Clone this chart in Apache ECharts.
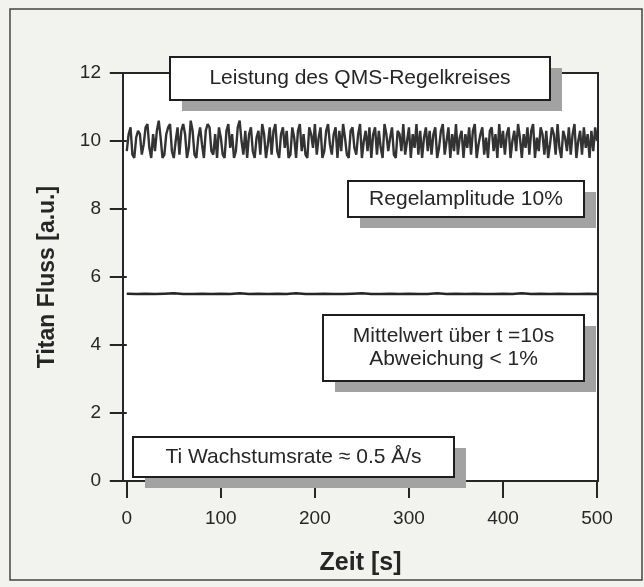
<!DOCTYPE html>
<html>
<head>
<meta charset="utf-8">
<script src="https://cdn.jsdelivr.net/npm/echarts@6/dist/echarts.min.js"></script>
<style>
html,body{margin:0;padding:0;background:#f2f2ef;}
#chart{width:644px;height:587px;}
</style>
</head>
<body>
<div id="chart"></div>
<script>
// ---- data ----
var xTicks = [0, 100, 200, 300, 400, 500];
var yTicks = [0, 2, 4, 6, 8, 10, 12];
var noiseStep = 2;   // s between samples of the raw flux signal
var rawFlux = [
9.7,10.2,10.4,9.6,9.5,10.1,10.3,10.2,9.6,9.9,
10.4,10.5,9.8,9.5,10.2,9.7,10.3,10.6,10.1,9.5,
9.6,10.2,10.4,10.5,9.7,9.5,10.0,10.4,9.6,10.3,
10.5,10.2,9.5,9.8,10.6,10.3,9.6,9.5,10.1,10.4,
9.9,9.5,10.3,10.5,10.4,9.7,9.6,10.2,9.5,10.4,
10.1,9.6,9.5,10.3,10.5,9.8,10.2,9.5,9.7,10.4,
10.6,10.0,9.6,10.3,9.5,10.2,10.4,9.7,9.5,10.1,
10.3,9.6,10.5,10.2,9.5,9.9,10.4,9.6,10.3,10.5,
9.7,9.5,10.2,10.4,9.8,10.3,9.5,9.6,10.4,10.1,
9.5,10.3,10.5,9.7,10.2,9.6,9.5,10.4,10.2,9.8,
10.5,9.6,10.1,10.4,9.5,9.7,10.3,10.5,9.9,9.6,
10.2,10.4,9.5,10.3,9.7,10.5,10.1,9.6,9.5,10.3,
10.4,9.8,9.6,10.2,10.5,9.5,10.0,10.3,9.7,10.4,
9.5,10.2,10.4,9.6,10.3,9.8,9.5,10.5,10.2,9.7,
10.1,10.4,9.6,9.5,10.3,10.2,9.7,10.5,9.6,10.0,
10.4,9.5,10.2,9.8,10.5,9.6,10.3,9.5,10.1,10.4,
9.7,10.3,9.6,10.2,10.4,9.5,9.8,10.3,10.5,9.6,
10.0,10.4,9.5,10.2,9.7,10.5,9.6,10.1,10.3,9.5,
10.2,9.8,10.4,9.6,10.3,10.5,9.5,9.9,10.2,10.4,
9.6,10.1,9.5,10.3,10.4,9.7,10.2,9.5,10.5,9.8,
10.3,9.6,10.2,10.4,9.5,10.0,10.3,9.7,10.5,10.1,
9.5,10.2,9.8,10.4,9.6,10.3,10.5,9.5,10.1,9.7,
10.4,10.2,9.6,10.3,9.5,9.9,10.4,10.2,9.6,10.5,
9.8,9.5,10.3,10.1,9.7,10.4,9.6,10.2,10.5,9.5,
10.0,10.3,9.6,10.4,9.8,10.2,9.5,10.3,9.7,10.4,
10.0
];
var meanStep = 10;     // s, averaging window
var meanFlux = [
5.51,5.50,5.51,5.50,5.51,5.52,5.50,5.50,5.51,5.50,
5.51,5.50,5.52,5.50,5.51,5.50,5.51,5.50,5.52,5.50,
5.50,5.51,5.50,5.50,5.51,5.52,5.50,5.50,5.51,5.50,
5.51,5.50,5.50,5.52,5.50,5.51,5.50,5.51,5.50,5.50,
5.51,5.50,5.52,5.50,5.51,5.50,5.51,5.50,5.50,5.51,
5.50
];
var labels = {
  title: 'Leistung des QMS-Regelkreises',
  amp: 'Regelamplitude 10%',
  mean: 'Mittelwert über t =10s\nAbweichung < 1%',
  rate: 'Ti Wachstumsrate ≈ 0.5 Å/s',
  xName: 'Zeit [s]',
  yName: 'Titan Fluss [a.u.]'
};

var rawData = rawFlux.map(function (v, i) { return [i * noiseStep, v]; });
var meanData = meanFlux.map(function (v, i) { return [i * meanStep, v]; });

var FONT = '"Liberation Sans", Arial, Helvetica, sans-serif';
var INK = '#262626';

function box(x, y, w, h, text, lh) {
  return {
    type: 'group', z: 20,
    children: [
      { type: 'rect', shape: { x: x + 12, y: y + 11, width: w, height: h },
        style: { fill: '#a2a2a2' }, z: 20 },
      { type: 'rect', shape: { x: x, y: y, width: w, height: h },
        style: { fill: '#ffffff', stroke: '#1e1e1e', lineWidth: 2 }, z: 21 },
      { type: 'text', x: x + w / 2, y: y + h / 2, z: 22,
        style: { text: text, fill: INK, font: '21px ' + FONT,
                 align: 'center', verticalAlign: 'middle', lineHeight: lh || 24 } }
    ]
  };
}

var chart = echarts.init(document.getElementById('chart'));
chart.setOption({
  backgroundColor: '#f2f2ef',
  animation: false,
  grid: { left: 123, right: 46, top: 73, bottom: 106, show: false },
  xAxis: {
    type: 'value', min: -4, max: 501,
    offset: 4,
    axisLine: { show: false },
    axisTick: { show: true, length: 17, customValues: xTicks, lineStyle: { color: INK, width: 2 } },
    axisLabel: { margin: 24, color: INK, fontSize: 19, fontFamily: FONT, customValues: xTicks },
    splitLine: { show: false },
    name: labels.xName, nameLocation: 'middle', nameGap: 66,
    nameTextStyle: { color: INK, fontSize: 25, fontWeight: 'bold', fontFamily: FONT }
  },
  yAxis: {
    type: 'value', min: 0, max: 12, interval: 2,
    axisLine: { show: false },
    axisTick: { show: true, length: 17, lineStyle: { color: INK, width: 2 } },
    axisLabel: { margin: 22, color: INK, fontSize: 19, fontFamily: FONT },
    splitLine: { show: false },
    name: labels.yName, nameLocation: 'middle', nameGap: 64,
    nameTextStyle: { color: INK, fontSize: 23, fontWeight: 'bold', fontFamily: FONT }
  },
  graphic: [
    { type: 'rect', z: -1, shape: { x: 10, y: 9, width: 632, height: 571 },
      style: { fill: 'none', stroke: '#444', lineWidth: 1.5 } },
    { type: 'rect', z: -1, shape: { x: 123, y: 73, width: 475, height: 408 },
      style: { fill: '#ffffff', stroke: INK, lineWidth: 2 } },
    box(170, 57, 380, 43, labels.title),
    box(348, 181, 236, 36, labels.amp),
    box(323, 315, 261, 66, labels.mean, 23),
    box(133, 437, 321, 40, labels.rate)
  ],
  series: [
    { type: 'line', data: rawData, step: 'end', showSymbol: false, z: 5,
      lineStyle: { color: '#333333', width: 2.4 } },
    { type: 'line', data: meanData, showSymbol: false, z: 5,
      lineStyle: { color: '#262626', width: 2.5 } }
  ]
});
</script>
</body>
</html>
